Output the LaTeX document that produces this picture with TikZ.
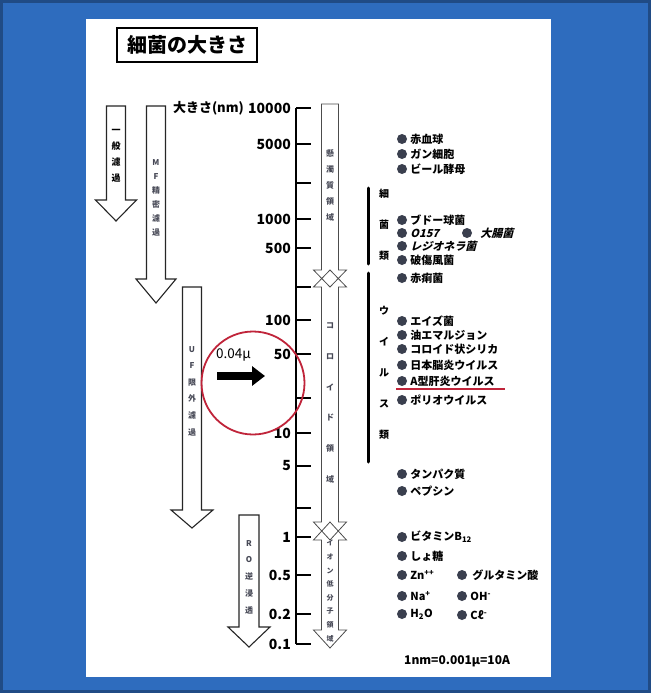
\documentclass[tikz,border=0pt]{standalone}
\usepackage{fontspec}
\setmainfont{Noto Sans CJK JP}
\newfontfamily\slantjp{Noto Sans CJK JP}[FakeSlant=0.25]
\usetikzlibrary{arrows.meta, positioning}

\definecolor{pageblue}{RGB}{46,108,190}
\definecolor{ringred}{RGB}{192,36,58}
\definecolor{dotgray}{RGB}{58,63,78}
\definecolor{labgray}{RGB}{70,72,85}

% hollow arrow pointing down: [style] x, top, head base, tip, shaft half width, head half width
\newcommand{\blockdown}[7][blockline]{%
  \draw[#1] (#2-#6,#3) -- (#2-#6,#4) -- (#2-#7,#4) -- (#2,#5)
    -- (#2+#7,#4) -- (#2+#6,#4) -- (#2+#6,#3) -- cycle;}
% hollow arrow with a head at both ends: x, top tip, top base, bottom base, bottom tip
\newcommand{\blockboth}[5]{%
  \draw[barline] (#1,#2) -- (#1-16.5,#3) -- (#1-8.5,#3) -- (#1-8.5,#4) -- (#1-16.5,#4)
    -- (#1,#5) -- (#1+16.5,#4) -- (#1+8.5,#4) -- (#1+8.5,#3) -- (#1+16.5,#3) -- cycle;}

\tikzset{
  blockline/.style={draw=black!85, line width=1.1pt},
  barline/.style={draw=black!70, line width=0.8pt},
  scaleline/.style={line width=1.2pt},
  vlabel/.style={align=center, inner sep=0pt, text=labgray, font=\fontsize{8}{16}\selectfont\bfseries},
  numlab/.style={anchor=east, inner sep=0pt, font=\fontsize{14}{14}\selectfont\bfseries},
  itemdot/.style={circle, fill=dotgray, inner sep=0pt, minimum size=10pt},
  itemtext/.style={anchor=west, inner sep=0pt, font=\fontsize{11}{11}\selectfont\bfseries},
  grouplab/.style={align=center, inner sep=0pt, font=\fontsize{10}{31}\selectfont\bfseries},
  groupbar/.style={line width=3pt, line cap=round},
}

\begin{document}
\begin{tikzpicture}[x=1pt, y=-1pt]
  \useasboundingbox (0,0) rectangle (651,693);
  \fill[pageblue] (0,0) rectangle (651,693);
  \draw[pageblue!70!black, line width=3pt] (1.5,1.5) rectangle (649.5,691.5);
  \fill[white] (86,19) rectangle (551,677);

  % title
  \node[draw, line width=1.3pt, minimum width=140pt, minimum height=34pt,
        font=\fontsize{20}{20}\selectfont\bfseries] (title) at (187,45) {細菌の大きさ};

  % filtration ranges
  \blockdown{116}{106}{200}{221}{9.5}{20.5}
  \node[vlabel, text=black, font=\fontsize{9}{16}\selectfont\bfseries] (gen) at (116,156) {一\\般\\濾\\過};
  \blockdown{156}{106}{279}{303}{9.5}{20}
  \node[vlabel, font=\fontsize{8}{14}\selectfont\bfseries] (mf) at (156,198) {M\\F\\精\\密\\濾\\過};
  \blockdown{192}{287}{510}{528}{9.5}{21}
  \node[vlabel, font=\fontsize{8}{16.6}\selectfont\bfseries] (uf) at (192,391) {U\\F\\限\\外\\濾\\過};
  \blockdown{249}{515}{627}{647}{10}{21}
  \node[vlabel, font=\fontsize{8}{16.8}\selectfont\bfseries] (ro) at (249,577) {R\\O\\逆\\浸\\透};

  % regions
  \blockdown[barline]{330}{104}{270}{287}{8.5}{16.5}
  \node[vlabel] (susp) at (330,185) {懸\\濁\\質\\領\\域};
  \blockboth{330}{270}{287}{522}{540}
  \node[vlabel, font=\fontsize{8}{30.8}\selectfont\bfseries] (coll) at (330,403) {コ\\ロ\\イ\\ド\\領\\域};
  \blockboth{330}{522}{540}{630}{648}
  \node[vlabel, font=\fontsize{7}{13.6}\selectfont\bfseries] (ion) at (330,591) {イ\\オ\\ン\\低\\分\\子\\領\\域};

  % size scale
  \foreach \y/\lab [count=\i] in {108/10000, 144/5000, 183/{}, 219/1000, 248/500, 287/{},
      320/100, 354/50, 398/{}, 433/10, 466/5, 508/{}, 537/1, 575/0.5, 614/0.2, 644/0.1} {
    \coordinate (t\i) at (296,\y);
    \draw[scaleline] (t\i) -- ++(15,0);
    \node[numlab] (n\i) at (291,\y) {\lab};
  }
  \draw[scaleline] (t1) -- (t16);
  \node[numlab, font=\fontsize{13}{13}\selectfont\bfseries, left=4pt of n1] (unit) {大きさ(nm)};

  % 0.04 micron
  \node[circle, draw=ringred, line width=1.8pt, minimum size=103pt, inner sep=0pt] (ring) at (253,383) {};
  \node[anchor=west, inner sep=0pt, font=\fontsize{13.5}{13}\selectfont] (dia) at (216,355) {0.04μ};
  \coordinate (a0) at (217,376);
  \coordinate (a1) at (265,376);
  \draw[line width=8pt, -{Triangle[length=13pt, width=19pt]}] (a0) -- (a1);

  % groups
  \coordinate (bac0) at (368,188);
  \coordinate (bac1) at (368,264);
  \coordinate (vir0) at (368,273);
  \coordinate (vir1) at (368,462);
  \draw[groupbar] (bac0) -- (bac1);
  \draw[groupbar] (vir0) -- (vir1);
  \node[grouplab] (bac) at (384,225) {細\\菌\\類};
  \node[grouplab] (vir) at (384,373) {ウ\\イ\\ル\\ス\\類};

  % examples
  \foreach \y/\txt [count=\i] in {139/赤血球, 154/ガン細胞, 169/ビール酵母, 220/ブドー球菌,
      233/{\slantjp\bfseries O157}, 246/{\slantjp\bfseries レジオネラ菌}, 260/破傷風菌, 278/赤痢菌,
      321/エイズ菌, 335/油エマルジョン, 349/コロイド状シリカ, 365/日本脳炎ウイルス,
      381/A型肝炎ウイルス, 400/ポリオウイルス, 474/タンパク質, 491/ペプシン,
      537/ビタミンB\textsubscript{12}, 556/しょ糖, 575/Zn\textsuperscript{++},
      596/Na\textsuperscript{+}, 614/H\textsubscript{2}O} {
    \node[itemdot] (d\i) at (402,\y) {};
    \node[itemtext, right=3pt of d\i] (e\i) {\txt};
  }
  \node[itemdot] (d22) at (467,233) {};
  \node[itemtext, right=8pt of d22] (e22) {\slantjp\bfseries 大腸菌};
  \node[itemdot] (d23) at (462,575) {};
  \node[itemtext, right=5pt of d23] (e23) {グルタミン酸};
  \node[itemdot] (d24) at (462,596) {};
  \node[itemtext, right=3pt of d24] (e24) {OH\textsuperscript{-}};
  \node[itemdot] (d25) at (462,615) {};
  \node[itemtext, right=3pt of d25] (e25) {Cℓ\textsuperscript{-}};

  \coordinate (ul0) at (396,389);
  \coordinate (ul1) at (505,389);
  \draw[ringred, line width=1.5pt] (ul0) -- (ul1);

  \node[anchor=west, inner sep=0pt, font=\fontsize{12}{12}\selectfont\bfseries] (note) at (404,661) {1nm=0.001μ=10A};
\end{tikzpicture}
\end{document}
